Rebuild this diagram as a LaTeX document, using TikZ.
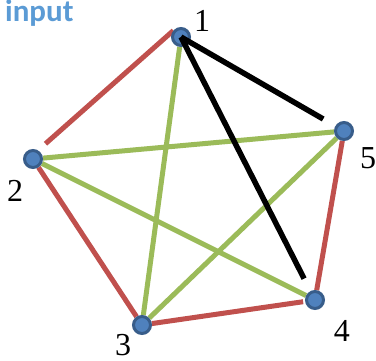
\documentclass[tikz,border=0pt]{standalone}
\usepackage{fontspec}
\setmainfont{Liberation Serif}
\newfontfamily\titlefont{Carlito}
\usepackage{xcolor}
\usepackage{tikz}
\usetikzlibrary{backgrounds}

\definecolor{edgered}{RGB}{192,80,77}
\definecolor{edgegreen}{RGB}{155,187,89}
\definecolor{vertexfill}{RGB}{79,129,189}
\definecolor{vertexline}{RGB}{56,93,138}
\definecolor{titleblue}{RGB}{91,155,213}

\begin{document}
\begin{tikzpicture}[
    x=1pt, y=-1pt,
    vertex/.style={circle, fill=vertexfill, draw=vertexline, line width=3pt, minimum size=17pt, inner sep=0pt},
    vlabel/.style={font=\fontsize{32}{32}\selectfont, inner sep=0pt},
    redge/.style={draw=edgered, line width=5pt},
    gedge/.style={draw=edgegreen, line width=5pt},
    bedge/.style={draw=black, line width=5.5pt}
]
\useasboundingbox (0,0) rectangle (376,360);

\node[anchor=base west, inner sep=0pt, text=titleblue, font=\titlefont\bfseries\fontsize{31}{31}\selectfont] (title) at (5,21) {input};

% vertices
\node[vertex] (n1) at (181,37) {};
\node[vertex] (n2) at (33,159) {};
\node[vertex] (n3) at (142,325) {};
\node[vertex] (n4) at (315,300) {};
\node[vertex] (n5) at (344,131) {};

% labels
\node[vlabel] (l1) at (202,21) {1};
\node[vlabel] (l2) at (15,191) {2};
\node[vlabel] (l3) at (123,345) {3};
\node[vlabel] (l4) at (342,331) {4};
\node[vlabel] (l5) at (368,158) {5};

\begin{scope}[on background layer]
    \draw[gedge] (n1) -- (n3);
    \draw[gedge] (n2) -- (n5);
    \draw[gedge] (n2) -- (n4);
    \draw[gedge] (n3) -- (n5);
    \draw[redge, shorten >=10pt] (n1.140) -- (n2.60);
    \draw[redge] (n2) -- (n3);
    \draw[redge, shorten >=2pt] (n3) -- (n4);
    \draw[redge] (n4) -- (n5);
\end{scope}

\draw[bedge, shorten >=14pt] (n1.center) -- (n5);
\draw[bedge, shorten >=14pt] (n1.center) -- (n4);
\end{tikzpicture}
\end{document}
